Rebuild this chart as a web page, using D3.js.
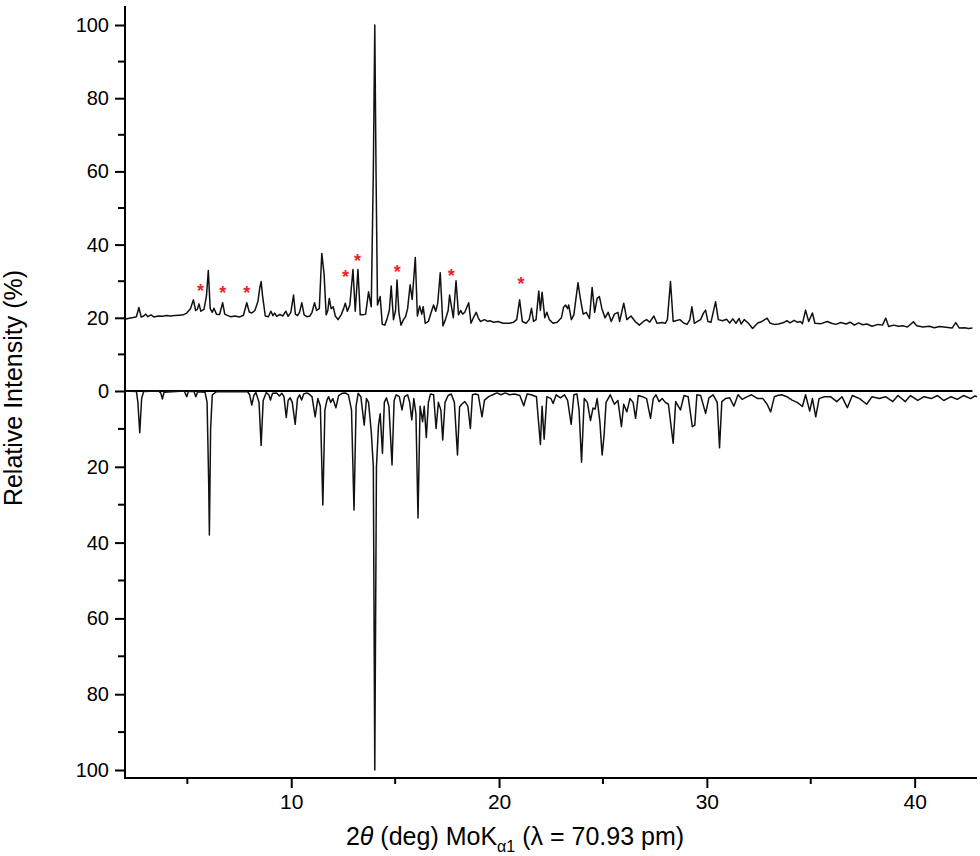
<!DOCTYPE html>
<html>
<head>
<meta charset="utf-8">
<script src="https://cdn.jsdelivr.net/npm/d3@7"></script>
<style>
  body { margin: 0; background: #fff; }
  svg { display: block; }
  text { font-family: "Liberation Sans", Arial, sans-serif; fill: #000; }
</style>
</head>
<body>
<div class="chart"></div>
<script>
// measured pattern (top), 2theta vs relative intensity
const measured = [
  [2.0,19.6],[2.2,19.9],[2.4,20.1],[2.55,20.3],[2.67,22.8],[2.78,20.2],[2.9,20.5],[3.0,21.0],[3.1,20.3],[3.25,20.8],
  [3.4,20.2],[3.6,20.5],[3.8,20.4],[4.0,20.6],[4.2,20.5],[4.4,20.6],[4.6,20.7],[4.8,20.8],[4.97,21.3],[5.15,22.5],
  [5.29,24.9],[5.4,22.0],[5.48,22.3],[5.56,23.8],[5.65,21.8],[5.8,22.3],[5.92,26.0],[6.01,32.9],[6.1,22.5],[6.2,21.5],
  [6.28,22.6],[6.4,21.0],[6.55,20.9],[6.7,24.1],[6.8,21.0],[6.95,20.6],[7.1,20.3],[7.3,20.5],[7.5,20.2],[7.7,20.7],
  [7.86,24.1],[7.98,21.6],[8.1,21.3],[8.25,22.0],[8.4,24.5],[8.48,28.0],[8.55,29.9],[8.62,26.0],[8.75,20.5],[8.9,20.3],
  [9.02,21.8],[9.12,20.6],[9.2,21.3],[9.3,20.4],[9.45,20.9],[9.6,20.5],[9.74,21.8],[9.85,20.4],[9.98,21.5],[10.11,26.2],
  [10.2,21.0],[10.3,20.6],[10.4,21.5],[10.51,24.1],[10.62,20.8],[10.75,20.3],[10.9,20.5],[11.0,21.5],[11.12,24.1],[11.22,22.0],
  [11.35,22.5],[11.47,37.6],[11.58,32.0],[11.68,20.8],[11.76,22.0],[11.83,25.3],[11.92,22.5],[12.02,23.0],[12.12,20.5],[12.25,19.5],
  [12.4,20.8],[12.52,22.5],[12.6,24.0],[12.7,21.8],[12.82,23.5],[12.97,33.2],[13.08,21.8],[13.21,33.2],[13.32,20.8],[13.45,20.8],
  [13.58,21.0],[13.72,27.1],[13.85,23.0],[13.95,60],[14.02,100],[14.08,60],[14.15,23.5],[14.28,25.8],[14.38,18.2],[14.5,18.0],
  [14.6,19.5],[14.72,22.0],[14.81,28.7],[14.92,19.5],[15.02,22.0],[15.09,30.3],[15.18,21.5],[15.28,18.0],[15.4,19.5],[15.5,20.3],
  [15.6,22.5],[15.72,29.0],[15.82,25.0],[15.97,36.5],[16.07,20.5],[16.18,23.2],[16.28,21.0],[16.35,23.0],[16.45,18.5],[16.6,19.0],
  [16.75,21.8],[16.85,23.5],[16.95,21.8],[17.05,24.0],[17.17,32.3],[17.3,17.8],[17.42,19.5],[17.55,22.0],[17.62,26.2],[17.8,20.0],
  [17.93,30.1],[18.05,20.8],[18.15,22.0],[18.25,21.0],[18.35,21.5],[18.54,24.1],[18.65,18.5],[18.78,20.2],[18.9,21.5],[19.0,20.0],
  [19.1,19.0],[19.3,19.5],[19.45,19.0],[19.55,19.2],[19.75,18.8],[19.95,19.0],[20.2,18.5],[20.5,18.5],[20.7,18.8],[20.85,19.5],
  [20.99,24.9],[21.12,19.0],[21.3,18.5],[21.45,19.5],[21.56,22.6],[21.66,19.0],[21.78,19.5],[21.91,27.3],[21.99,22.0],[22.07,27.0],
  [22.2,20.0],[22.3,21.5],[22.42,19.5],[22.6,18.5],[22.8,18.8],[23.0,20.0],[23.1,22.8],[23.2,23.5],[23.3,22.5],[23.35,23.5],
  [23.48,19.5],[23.6,20.8],[23.8,29.6],[23.92,25.0],[24.05,21.0],[24.2,21.5],[24.35,19.8],[24.48,28.3],[24.6,21.5],[24.72,25.3],
  [24.83,25.8],[24.95,22.5],[25.1,20.0],[25.25,21.5],[25.4,19.0],[25.55,21.0],[25.72,21.5],[25.8,19.0],[26.0,24.0],[26.15,19.5],
  [26.35,20.5],[26.55,19.0],[26.75,18.0],[26.95,19.0],[27.1,19.5],[27.25,18.8],[27.45,20.5],[27.6,18.5],[27.85,18.7],[28.0,18.5],
  [28.1,19.5],[28.25,29.9],[28.38,19.0],[28.5,19.2],[28.7,19.5],[28.9,18.5],[29.05,18.2],[29.18,19.5],[29.28,23.0],[29.4,18.5],
  [29.55,19.0],[29.7,19.5],[29.83,21.2],[29.94,22.1],[30.05,19.0],[30.2,18.8],[30.42,24.4],[30.55,19.5],[30.75,19.2],[30.95,19.6],
  [31.1,18.6],[31.25,19.7],[31.4,18.5],[31.55,19.8],[31.65,18.3],[31.8,19.5],[32.0,18.5],[32.2,17.1],[32.45,18.6],[32.65,19.0],
  [32.9,19.9],[33.05,18.5],[33.25,18.2],[33.45,18.3],[33.7,18.7],[33.85,19.2],[34.0,18.6],[34.2,19.3],[34.35,18.8],[34.5,19.0],
  [34.6,18.4],[34.75,22.1],[34.9,19.0],[35.08,21.3],[35.2,18.5],[35.5,18.4],[35.8,19.0],[36.0,18.5],[36.2,18.2],[36.45,18.7],
  [36.7,18.3],[36.9,18.8],[37.1,18.0],[37.3,18.6],[37.5,18.1],[37.7,18.3],[37.95,17.7],[38.25,18.2],[38.45,18.0],[38.61,19.9],
  [38.75,17.6],[39.0,18.0],[39.2,17.7],[39.45,17.8],[39.65,17.5],[39.94,18.9],[40.1,17.8],[40.4,17.5],[40.7,17.7],[40.95,17.3],
  [41.2,17.6],[41.5,17.4],[41.8,17.2],[41.98,18.7],[42.15,17.2],[42.4,17.3],[42.6,17.1],[42.78,17.2]
];

// calculated pattern (bottom, drawn downward)
const calculated = [
  [2.0,0],[2.55,0.1],[2.62,3],[2.71,11.0],[2.8,2],[2.9,0.1],[3.6,0],[3.72,0.5],[3.8,2.1],[3.88,0.3],
  [4.85,0],[4.97,1.5],[5.05,0.1],[5.32,0.1],[5.41,1.5],[5.5,0.2],[5.85,0.3],[5.95,3],[6.03,25],[6.06,38.0],
  [6.12,10],[6.2,1],[6.4,0.2],[7.9,0.2],[8.0,1.0],[8.1,3.7],[8.2,1.2],[8.3,0.4],[8.45,3],[8.55,14.4],
  [8.65,2.5],[8.8,0.4],[8.92,1.0],[9.0,2.4],[9.1,0.6],[9.3,0.5],[9.43,1.3],[9.55,0.6],[9.65,1.5],[9.76,7.0],
  [9.85,2.5],[9.95,1.8],[10.05,3],[10.19,8.8],[10.3,2.0],[10.4,1.0],[10.5,2.4],[10.6,0.8],[10.75,0.5],[10.85,0.8],
  [11.0,1.5],[11.15,6.8],[11.28,2.0],[11.4,4],[11.52,30.1],[11.62,5],[11.72,2.4],[11.8,1.5],[11.9,3.0],[12.0,2.0],
  [12.15,4.4],[12.28,1.2],[12.45,0.6],[12.6,0.5],[12.75,1.0],[12.9,5],[13.02,31.4],[13.12,4],[13.22,0.6],[13.35,1.5],
  [13.51,9.0],[13.62,2.0],[13.72,3.0],[13.85,10.7],[13.95,20],[14.02,100],[14.1,20],[14.2,9],[14.28,6.0],[14.39,16.4],
  [14.48,3.0],[14.58,1.8],[14.7,4],[14.85,19.5],[14.95,2.5],[15.05,1.0],[15.2,1.5],[15.33,5.0],[15.45,1.5],[15.6,1.0],
  [15.7,3],[15.8,7.6],[15.9,2.0],[16.0,6],[16.1,33.5],[16.2,4.0],[16.32,8.1],[16.4,4.0],[16.5,12.3],[16.6,3],
  [16.7,0.8],[16.85,1.0],[16.97,9.9],[17.08,3.0],[17.2,5],[17.29,12.9],[17.4,3.0],[17.55,1.2],[17.7,0.8],[17.85,3],
  [18.0,16.9],[18.1,4.2],[18.2,3.5],[18.35,2.8],[18.5,4],[18.62,9.9],[18.72,1.0],[18.85,0.8],[19.0,1.0],[19.18,6.8],
  [19.3,2.4],[19.5,1.5],[19.7,1.0],[19.9,0.5],[20.1,1.0],[20.3,0.5],[20.5,1.0],[20.75,0.8],[21.0,1.2],[21.19,3.9],
  [21.35,0.8],[21.55,1.0],[21.8,1.5],[21.99,14.1],[22.07,4.0],[22.17,12.7],[22.3,1.5],[22.5,2.0],[22.6,3.3],[22.75,1.0],
  [22.95,1.8],[23.15,1.0],[23.3,2.5],[23.47,8.8],[23.6,1.0],[23.75,0.8],[23.85,5],[23.97,18.8],[24.1,2.0],[24.25,3.0],
  [24.4,7.8],[24.52,4.5],[24.62,4.8],[24.72,2.0],[24.85,8],[24.96,16.9],[25.05,12],[25.15,3.0],[25.35,1.0],[25.55,3.5],
  [25.72,2.5],[25.89,9.4],[26.0,3.5],[26.15,5.5],[26.3,2.0],[26.45,3],[26.57,7.2],[26.7,1.2],[26.9,1.5],[27.1,2.0],
  [27.29,7.2],[27.42,2.0],[27.55,1.0],[27.7,2.8],[27.85,2.0],[28.0,3.0],[28.15,3.5],[28.38,13.8],[28.5,2.8],[28.73,5.0],
  [28.9,1.2],[29.1,1.5],[29.3,9.4],[29.42,9.0],[29.52,1.0],[29.7,1.2],[29.94,5.9],[30.1,1.8],[30.3,1.0],[30.5,3],
  [30.61,15.0],[30.72,2.8],[30.9,2.0],[31.1,1.8],[31.3,4.0],[31.5,1.0],[31.7,2.2],[31.95,1.5],[32.15,1.0],[32.45,2.0],
  [32.7,2.0],[32.9,3.5],[33.07,5.5],[33.25,1.5],[33.4,1.2],[33.6,1.0],[33.85,1.5],[34.1,2.4],[34.35,3.0],[34.6,4.1],
  [34.75,1.0],[34.95,5.3],[35.08,2.0],[35.24,6.8],[35.4,2.0],[35.65,1.5],[35.95,1.5],[36.25,2.8],[36.5,1.5],[36.76,4.4],
  [37.0,1.2],[37.35,2.0],[37.69,3.5],[37.95,1.5],[38.3,2.0],[38.6,1.5],[38.95,2.8],[39.2,1.2],[39.55,2.8],[39.8,1.2],
  [40.15,2.5],[40.45,1.5],[40.8,2.0],[41.1,1.2],[41.4,2.5],[41.75,1.5],[42.05,2.2],[42.35,1.2],[42.7,2.0],[42.9,1.3],
  [43.0,1.5]
];

// red asterisks marking extra reflections
const stars = [
  [5.63,28.3],[6.70,27.9],[7.86,28.0],[12.61,32.2],[13.19,36.6],[15.1,33.5],[17.70,32.4],[21.06,30.3]
];

const xMajor = [10, 20, 30, 40];
const xMinor = [5, 15, 25, 35];
const yTopMajor = [0, 20, 40, 60, 80, 100];
const yBotMajor = [20, 40, 60, 80, 100];
const yMinor = [10, 30, 50, 70, 90];

const width = 980;
const height = 856;
const left = 125, right = 977;
const zeroY = 391, axisY = 778;

const svg = d3.select(".chart")
  .append("svg")
  .attr("width", width)
  .attr("height", height);

const x = d3.scaleLinear().domain([2, 43]).range([left, right]);
const yTop = d3.scaleLinear().domain([0, 100]).range([zeroY, 25]);
const yBot = d3.scaleLinear().domain([0, 100]).range([zeroY, 770]);

// zero line
svg.append("line")
  .attr("x1", left).attr("x2", x(42.78))
  .attr("y1", zeroY).attr("y2", zeroY)
  .attr("stroke", "#000").attr("stroke-width", 1.8);

const lineTop = d3.line().x(d => x(d[0])).y(d => yTop(d[1]));
const lineBot = d3.line().x(d => x(d[0])).y(d => yBot(d[1]));

svg.append("path")
  .datum(measured)
  .attr("d", lineTop)
  .attr("fill", "none")
  .attr("stroke", "#111")
  .attr("stroke-width", 1.5)
  .attr("stroke-linejoin", "round");

svg.append("path")
  .datum(calculated)
  .attr("d", lineBot)
  .attr("fill", "none")
  .attr("stroke", "#111")
  .attr("stroke-width", 1.5)
  .attr("stroke-linejoin", "round");

svg.selectAll(".star")
  .data(stars)
  .join("text")
  .attr("class", "star")
  .attr("x", d => x(d[0]))
  .attr("y", d => yTop(d[1]) + 10)
  .attr("text-anchor", "middle")
  .style("fill", "#e8262a")
  .style("font-size", "18px")
  .style("font-weight", "bold")
  .text("*");

// left axis: top half and bottom half share the line
const topAxis = d3.axisLeft(yTop).tickValues(yTopMajor).tickSize(10).tickPadding(6);
const botAxis = d3.axisLeft(yBot).tickValues(yBotMajor).tickSize(10).tickPadding(6);

[[topAxis, yTop], [botAxis, yBot]].forEach(([ax, sc]) => {
  const g = svg.append("g").attr("transform", `translate(${left},0)`).call(ax);
  g.select(".domain").remove();
  g.selectAll(".tick line").attr("stroke-width", 2);
  g.selectAll(".tick text").style("font-size", "20px").style("font-family", "'Liberation Sans', Arial, sans-serif");
  g.selectAll(".minor")
    .data(yMinor)
    .join("line")
    .attr("class", "minor")
    .attr("x1", -7).attr("x2", 0)
    .attr("y1", d => sc(d)).attr("y2", d => sc(d))
    .attr("stroke", "#000").attr("stroke-width", 2);
});

svg.append("line")
  .attr("x1", left).attr("x2", left)
  .attr("y1", 6).attr("y2", axisY + 1)
  .attr("stroke", "#000").attr("stroke-width", 2);

// bottom axis
const xAxis = d3.axisBottom(x).tickValues(xMajor).tickSize(10).tickPadding(6);
const gx = svg.append("g").attr("transform", `translate(0,${axisY})`).call(xAxis);
gx.select(".domain").remove();
gx.selectAll(".tick line").attr("stroke-width", 2);
gx.selectAll(".tick text").style("font-size", "21px").style("font-family", "'Liberation Sans', Arial, sans-serif");
gx.selectAll(".minor")
  .data(xMinor)
  .join("line")
  .attr("class", "minor")
  .attr("x1", d => x(d)).attr("x2", d => x(d))
  .attr("y1", 0).attr("y2", 6)
  .attr("stroke", "#000").attr("stroke-width", 2);

svg.append("line")
  .attr("x1", left).attr("x2", right)
  .attr("y1", axisY).attr("y2", axisY)
  .attr("stroke", "#000").attr("stroke-width", 2);

// axis titles
const xt = svg.append("text")
  .attr("x", 515)
  .attr("y", 845)
  .attr("text-anchor", "middle")
  .style("font-size", "25px");
xt.append("tspan").text("2");
xt.append("tspan").style("font-style", "italic").text("\u03b8");
xt.append("tspan").text(" (deg) MoK");
xt.append("tspan").attr("dy", 7).style("font-size", "16px").text("\u03b11");
xt.append("tspan").attr("dy", -7).text(" (\u03bb = 70.93 pm)");

svg.append("text")
  .attr("transform", "translate(22,388) rotate(-90)")
  .attr("text-anchor", "middle")
  .style("font-size", "25px")
  .text("Relative Intensity (%)");
</script>
</body>
</html>
